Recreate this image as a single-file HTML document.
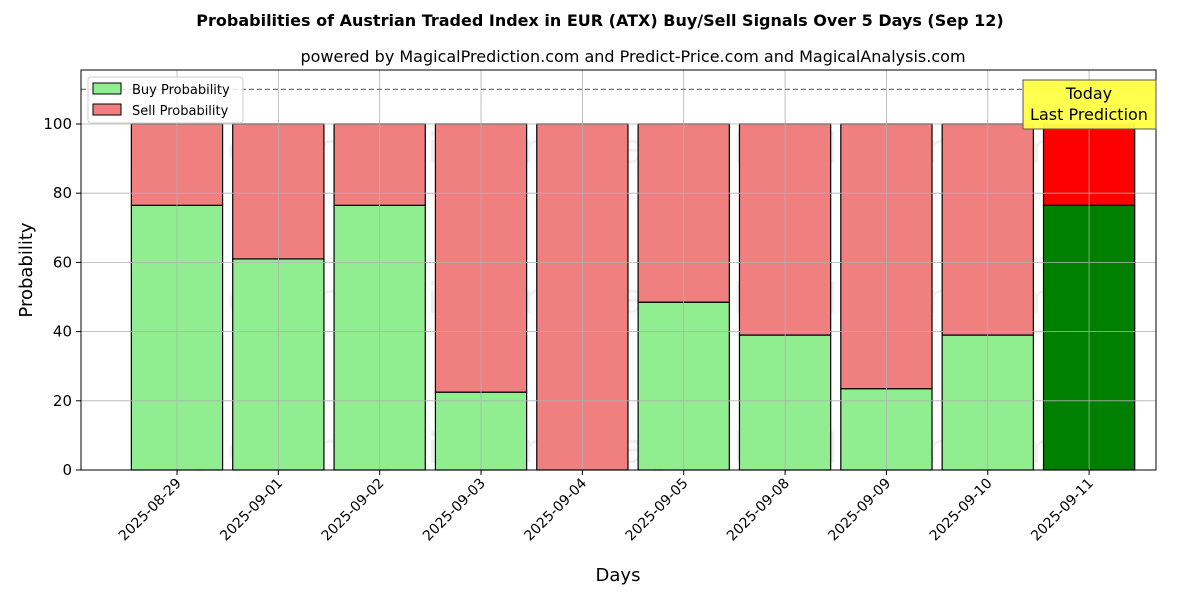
<!DOCTYPE html>
<html><head><meta charset="utf-8"><style>
body{margin:0;background:#fff;font-family:"DejaVu Sans","Liberation Sans",sans-serif;}
svg text{font-family:"DejaVu Sans","Liberation Sans",sans-serif;}
</style></head><body>
<svg id="chart" width="1200" height="600" xmlns="http://www.w3.org/2000/svg">
<text x="600" y="26" text-anchor="middle" font-size="16" font-weight="bold">Probabilities of Austrian Traded Index in EUR (ATX) Buy/Sell Signals Over 5 Days (Sep 12)</text>
<text x="633" y="62" text-anchor="middle" font-size="16">powered by MagicalPrediction.com and Predict-Price.com and MagicalAnalysis.com</text>
<g id="wm" fill="#888" fill-opacity="0.13" font-size="42">
<text x="345" y="163" text-anchor="middle">MagicalAnalysis.com</text>
<text x="820" y="163" text-anchor="middle">MagicalPrediction.com</text>
<text x="345" y="313" text-anchor="middle">MagicalAnalysis.com</text>
<text x="820" y="313" text-anchor="middle">MagicalPrediction.com</text>
<text x="345" y="463" text-anchor="middle">MagicalAnalysis.com</text>
<text x="820" y="463" text-anchor="middle">MagicalPrediction.com</text>
</g>
<g id="bars"></g>
<g id="grid"></g>
<line x1="81" x2="1156" y1="89.4" y2="89.4" stroke="#777" stroke-width="1.2" stroke-dasharray="5,3"/>
<rect x="81" y="70" width="1075" height="400" fill="none" stroke="#000" stroke-width="1"/>
<g id="axes"></g>
<text transform="translate(32,270) rotate(-90)" text-anchor="middle" font-size="18">Probability</text>
<text x="618" y="581" text-anchor="middle" font-size="18">Days</text>
<g>
<rect x="88" y="77" width="155" height="46" fill="#fff" fill-opacity="0.8" stroke="#ccc" rx="3"/>
<rect x="93" y="83" width="28" height="11" fill="#90ee90" stroke="#000"/>
<text x="132" y="94" font-size="13">Buy Probability</text>
<rect x="93" y="104" width="28" height="11" fill="#f08080" stroke="#000"/>
<text x="132" y="115" font-size="13">Sell Probability</text>
</g>
<g>
<rect x="1023" y="80" width="133" height="49" fill="#ffff44" stroke="#555" fill-opacity="0.95"/>
<text x="1089" y="99" text-anchor="middle" font-size="16">Today</text>
<text x="1089" y="120" text-anchor="middle" font-size="16">Last Prediction</text>
</g>
</svg>
<script>
const categories=["2025-08-29","2025-09-01","2025-09-02","2025-09-03","2025-09-04","2025-09-05","2025-09-08","2025-09-09","2025-09-10","2025-09-11"];
const buyValues=[76.5,61,76.5,22.5,0,48.5,39,23.5,39,76.5];
const sellValues=[23.5,39,23.5,77.5,100,51.5,61,76.5,61,23.5];
const yTicks=[0,20,40,60,80,100];
const NS="http://www.w3.org/2000/svg";
const X0=81,X1=1156,Y0=470,Y1=70,xmin=-0.947,xmax=9.66,ymin=0,ymax=115.6;
const xs=i=>X0+(i-xmin)/(xmax-xmin)*(X1-X0);
const ys=v=>Y0-(v-ymin)/(ymax-ymin)*(Y0-Y1);
const bw=0.9*(X1-X0)/(xmax-xmin);
function mk(t,a,p){const e=document.createElementNS(NS,t);for(const k in a)e.setAttribute(k,a[k]);p.appendChild(e);return e;}
const bars=document.getElementById('bars'),grid=document.getElementById('grid'),axes=document.getElementById('axes');
categories.forEach((c,i)=>{
 const last=i===categories.length-1;
 const b=mk('rect',{x:xs(i)-bw/2,y:ys(buyValues[i]),width:bw,height:ys(0)-ys(buyValues[i]),fill:last?'#008000':'#90ee90',stroke:'#000','stroke-width':1.2},bars);
 
 
 const s=mk('rect',{x:xs(i)-bw/2,y:ys(buyValues[i]+sellValues[i]),width:bw,height:ys(buyValues[i])-ys(buyValues[i]+sellValues[i]),fill:last?'#ff0000':'#f08080',stroke:'#000','stroke-width':1.2},bars);
 
 
 const g=mk('line',{x1:xs(i),x2:xs(i),y1:Y1,y2:Y0,stroke:'#b0b0b0','stroke-width':0.8},grid);
 
 
 mk('line',{x1:xs(i),x2:xs(i),y1:Y0,y2:Y0+5,stroke:'#000'},axes);
 const t=mk('text',{transform:`translate(${xs(i)+5},${Y0+14}) rotate(-45)`,'text-anchor':'end','font-size':14},axes);
 t.textContent=c;
 
 
});
yTicks.forEach(v=>{
 const g=mk('line',{x1:X0,x2:X1,y1:ys(v),y2:ys(v),stroke:'#b0b0b0','stroke-width':0.8},grid);
 
 
 mk('line',{x1:X0-5,x2:X0,y1:ys(v),y2:ys(v),stroke:'#000'},axes);
 const t=mk('text',{x:X0-9,y:ys(v)+5,'text-anchor':'end','font-size':15},axes);
 t.textContent=v;
 
 
});
</script>
</body></html>
